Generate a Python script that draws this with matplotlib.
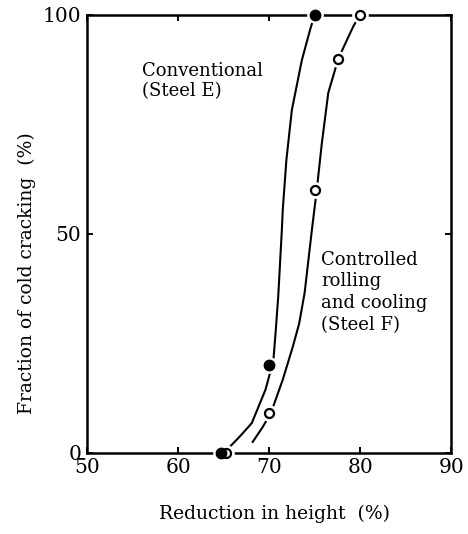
import numpy as np
import matplotlib
matplotlib.use("Agg")
import matplotlib.pyplot as plt

# measured points
steel_e_x = [64.7, 70.0, 75.0]
steel_e_y = [0, 20, 100]
steel_f_x = [65.3, 70.0, 75.0, 77.6, 80.0]
steel_f_y = [0, 9, 60, 90, 100]

# hand-fitted trend curves
curve_e_x = [65.7, 66.9, 68.1, 69.6, 70.2, 70.5, 70.75, 71.0, 71.4, 71.5,
             71.9, 72.5, 73.6, 74.5, 75.0]
curve_e_y = [1.4, 4.0, 6.8, 14.4, 19.0, 21.9, 28.5, 35.6, 50.9, 55.5,
             66.9, 78.3, 89.7, 96.6, 100]
curve_f_x = [68.2, 69.3, 70.2, 71.5, 72.6, 73.3, 73.9, 74.7, 75.2, 75.8,
             76.5, 77.6, 78.6, 79.3, 80.0]
curve_f_y = [2.5, 5.9, 9.1, 16.7, 24.2, 29.5, 36.5, 50.9, 59.4, 70.8,
             82.2, 90, 94.5, 97.6, 100]

x_ticks = [50, 60, 70, 80, 90]
y_ticks = [0, 50, 100]

plt.rcParams['font.family'] = ['DejaVu Serif']

fig = plt.figure(figsize=(4.68, 5.34), dpi=100)
ax = fig.add_axes([0.186, 0.152, 0.778, 0.82])

ax.plot(curve_e_x, curve_e_y, color='black', lw=1.5, zorder=2,
        solid_joinstyle='round')
ax.plot(curve_f_x, curve_f_y, color='black', lw=1.5, zorder=2,
        solid_joinstyle='round')

# white rings leave a small gap around each point
ax.plot(steel_e_x + steel_f_x, steel_e_y + steel_f_y, 'o', color='white',
        ms=12, mew=0, zorder=3, clip_on=False)
ax.plot(steel_f_x, steel_f_y, 'o', mfc='white', mec='black', mew=1.6,
        ms=6.5, zorder=4, clip_on=False)
ax.plot(steel_e_x, steel_e_y, 'o', color='black', ms=7.5, zorder=5,
        clip_on=False)

ax.set_xlim(50, 90)
ax.set_ylim(0, 100)
ax.set_xticks(x_ticks)
ax.set_yticks(y_ticks)
ax.tick_params(direction='in', length=4.5, width=1.4, top=True, right=True,
               labelsize=14.5, pad=4)
for sp in ax.spines.values():
    sp.set_linewidth(1.8)

ax.set_xlabel('Reduction in height  (%)', fontsize=13.5)
ax.set_ylabel('Fraction of cold cracking  (%)', fontsize=13.5)
ax.xaxis.set_label_coords(0.515, -0.118)
ax.yaxis.set_label_coords(-0.14, 0.41)

ax.text(0.15, 0.892, 'Conventional\n(Steel E)', transform=ax.transAxes,
        fontsize=13, va='top', ha='left', linespacing=1.12)
ax.text(0.642, 0.462, 'Controlled\nrolling\nand cooling\n(Steel F)',
        transform=ax.transAxes, fontsize=13, va='top', ha='left',
        linespacing=1.28)

fig.savefig('out.png', dpi=100)
